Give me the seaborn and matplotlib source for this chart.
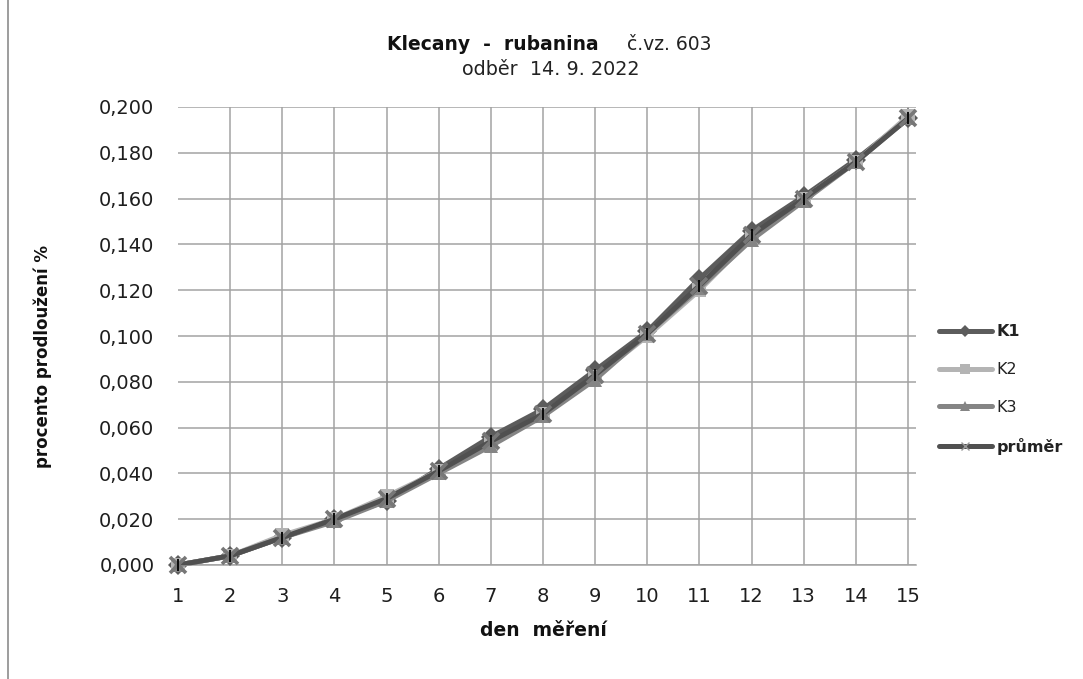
import matplotlib
matplotlib.use("Agg")
import matplotlib.pyplot as plt
import seaborn as sns
import pandas as pd
from matplotlib.lines import Line2D
from matplotlib.ticker import FuncFormatter, MultipleLocator

days = list(range(1, 16))
k1 = [0.000, 0.004, 0.012, 0.020, 0.028, 0.042, 0.056, 0.068, 0.085, 0.102, 0.125, 0.146, 0.161, 0.177, 0.195]
k2 = [0.000, 0.004, 0.013, 0.020, 0.030, 0.041, 0.053, 0.066, 0.082, 0.100, 0.120, 0.143, 0.160, 0.176, 0.196]
k3 = [0.000, 0.004, 0.012, 0.019, 0.028, 0.040, 0.052, 0.065, 0.081, 0.101, 0.121, 0.142, 0.159, 0.176, 0.195]
prumer = [0.000, 0.004, 0.012, 0.020, 0.029, 0.041, 0.054, 0.066, 0.083, 0.101, 0.122, 0.144, 0.160, 0.176, 0.195]
series_names = ["K1", "K2", "K3", "průměr"]

sns.set_theme(style="white")
plt.rcParams['font.family'] = ['DejaVu Sans']

W, H = 1083, 679
def fx(px):
    return px / W
def fy(py):
    return 1 - py / H

rows = []
for name, vals in zip(series_names[:3], [k1, k2, k3]):
    for d, v in zip(days, vals):
        rows.append({"den": d, "hodnota": v, "serie": name})
df = pd.DataFrame(rows)

fig = plt.figure(figsize=(10.83, 6.79), dpi=100)
# plot area: x=1 at 178 px, x=15 at 908 px; gridlines run on to 916 px
ax = fig.add_axes([fx(178), fy(565), fx(916) - fx(178), fy(107) - fy(565)])

palette = {"K1": "#5c5c5c", "K2": "#b4b4b4", "K3": "#858585", "průměr": "#505050"}
markers = {"K1": "D", "K2": "s", "K3": "^"}

sns.lineplot(data=df, x="den", y="hodnota", hue="serie", style="serie",
             palette={k: palette[k] for k in markers}, markers=markers, dashes=False, linewidth=3.6,
             markersize=10.5, markeredgewidth=0, ax=ax, legend=False, zorder=3, clip_on=False)
sns.lineplot(x=days, y=prumer, color=palette["průměr"], linewidth=3.6, ax=ax, zorder=4)
ax.plot(days, prumer, linestyle="none", marker="x", color="#777777", markersize=11,
        markeredgewidth=2.6, zorder=5, clip_on=False)
ax.plot(days, prumer, linestyle="none", marker="|", color="black", markersize=8,
        markeredgewidth=1.3, zorder=6, clip_on=False)

ax.set_xlim(1, 15 + 8 / (730 / 14))
ax.set_ylim(0, 0.2)
ax.set_xticks(days)
ax.yaxis.set_major_locator(MultipleLocator(0.02))
ax.yaxis.set_major_formatter(FuncFormatter(lambda v, p: f"{v:.3f}".replace(".", ",")))
ax.grid(True, color="#a3a3a3", linewidth=1.1)
for name, s in ax.spines.items():
    s.set_visible(name == "bottom")
    s.set_color("#a3a3a3")
    s.set_linewidth(1.1)
ax.tick_params(axis="both", length=0, labelcolor="#1e1e1e", labelsize=14)
ax.tick_params(axis="y", pad=17)
ax.tick_params(axis="x", pad=16)
ax.set_xlabel("")
ax.set_ylabel("")
fig.canvas.draw()
ax.xaxis.get_gridlines()[0].set_visible(False)

fig.text(fx(543), fy(636), "den  měření", fontsize=13.5, fontweight="bold", color="#111111",
         ha="center", va="baseline")
fig.text(fx(43), fy(356), "procento prodloužení %", fontsize=12, fontweight="bold",
         color="#111111", rotation=90, ha="center", va="center")

# title
fig.text(fx(599), fy(50), "Klecany  -  rubanina", fontsize=13.5, fontweight="bold",
         ha="right", va="baseline", color="#111111")
fig.text(fx(627), fy(50), "č.vz. 603", fontsize=13.5, ha="left", va="baseline", color="#222222")
fig.text(fx(551), fy(75), "odběr  14. 9. 2022", fontsize=13.8, ha="center", va="baseline",
         color="#222222")

# legend
handles = [
    Line2D([0], [0], color=palette["K1"], marker="D", linewidth=3.6, markersize=6, markeredgewidth=0),
    Line2D([0], [0], color=palette["K2"], marker="s", linewidth=3.6, markersize=7, markeredgewidth=0),
    Line2D([0], [0], color=palette["K3"], marker="^", linewidth=3.6, markersize=7, markeredgewidth=0),
    Line2D([0], [0], color=palette["průměr"], marker="x", markeredgecolor="#9a9a9a",
           linewidth=3.6, markersize=6, markeredgewidth=1.0),
]
leg = fig.legend(handles, series_names, loc="center left", bbox_to_anchor=(fx(939), fy(389.5)),
                 frameon=False, fontsize=11.5, handlelength=3.3, handletextpad=0.3,
                 labelspacing=1.42, borderpad=0, borderaxespad=0)
for t in leg.get_texts():
    t.set_color("#222222")
    if t.get_text() in ("K1", "průměr"):
        t.set_fontweight("bold")

# left frame line of the chart area
fig.add_artist(Line2D([fx(8), fx(8)], [0, 1], transform=fig.transFigure,
                      color="#8c8c8c", linewidth=1.2))

fig.savefig("out.png", dpi=100, facecolor="white")
